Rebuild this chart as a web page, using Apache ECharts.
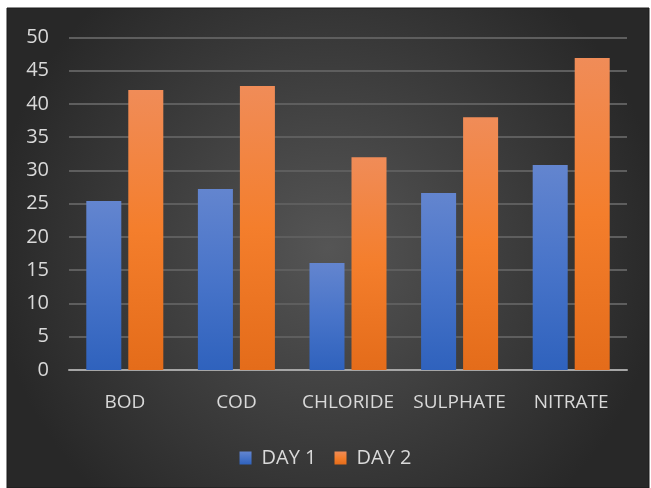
<!DOCTYPE html>
<html>
<head>
<meta charset="utf-8">
<script src="https://cdn.jsdelivr.net/npm/echarts@6/dist/echarts.min.js"></script>
<style>
  html, body { margin: 0; padding: 0; background: #fff; }
  #main { width: 651px; height: 488px; }
</style>
</head>
<body>
<div id="main"></div>
<script>
// categories and values
var categories = ['BOD', 'COD', 'CHLORIDE', 'SULPHATE', 'NITRATE'];
var day1 = [25.4, 27.2, 16.1, 26.6, 30.8];
var day2 = [42.1, 42.7, 32.0, 38.0, 46.9];
var seriesNames = ['DAY 1', 'DAY 2'];

var myChart = echarts.init(document.getElementById('main'));

var textColor = '#d9d9d9';
var fontFamily = 'Open Sans, Noto Sans, sans-serif';

function vgrad(top, mid, bottom) {
    return new echarts.graphic.LinearGradient(0, 0, 0, 1, [
        {offset: 0, color: top},
        {offset: 0.5, color: mid},
        {offset: 1, color: bottom}
    ]);
}

var option = {
    backgroundColor: '#ffffff',
    graphic: [{
        type: 'rect',
        z: -10,
        silent: true,
        shape: {x: 7, y: 8, width: 642, height: 480},
        style: {
            fill: new echarts.graphic.RadialGradient(0.5, 0.5, 0.7, [
                {offset: 0, color: '#555555'},
                {offset: 1, color: '#282828'}
            ]),
            stroke: '#1a1a1a',
            lineWidth: 1
        }
    }],
    grid: {
        left: 69,
        right: 24,
        top: 37.4,
        bottom: 118,
        containLabel: false
    },
    legend: {
        data: seriesNames,
        bottom: 15,
        left: 'center',
        icon: 'rect',
        itemWidth: 12,
        itemHeight: 13,
        itemGap: 18,
        textStyle: {color: textColor, fontSize: 20, fontFamily: fontFamily, padding: [0, 0, 0, 5]}
    },
    xAxis: {
        type: 'category',
        data: categories,
        axisLine: {lineStyle: {color: '#a6a6a6', width: 2}},
        axisTick: {show: false},
        axisLabel: {
            color: textColor, fontSize: 19, fontFamily: fontFamily, margin: 23,
            interval: 0, hideOverlap: false
        }
    },
    yAxis: {
        type: 'value',
        min: 0,
        max: 50,
        interval: 5,
        axisLine: {show: false},
        axisTick: {show: false},
        axisLabel: {color: textColor, fontSize: 20, fontFamily: fontFamily, margin: 20},
        splitLine: {lineStyle: {color: '#5e5e5e', width: 2}}
    },
    series: [
        {
            name: seriesNames[0],
            type: 'bar',
            data: day1,
            barGap: '20%',
            barCategoryGap: '31%',
            itemStyle: {
                color: vgrad('#6385cf', '#4874c9', '#2f62bd'),
                shadowBlur: 6,
                shadowColor: 'rgba(0,0,0,0.55)',
                shadowOffsetX: 2,
                shadowOffsetY: 2
            }
        },
        {
            name: seriesNames[1],
            type: 'bar',
            data: day2,
            barGap: '20%',
            barCategoryGap: '31%',
            itemStyle: {
                color: vgrad('#f08c58', '#f47e2c', '#e46c1a'),
                shadowBlur: 6,
                shadowColor: 'rgba(0,0,0,0.55)',
                shadowOffsetX: 2,
                shadowOffsetY: 2
            }
        }
    ]
};

myChart.setOption(option);
window.addEventListener('resize', function () {
    myChart.resize();
});
</script>
</body>
</html>
